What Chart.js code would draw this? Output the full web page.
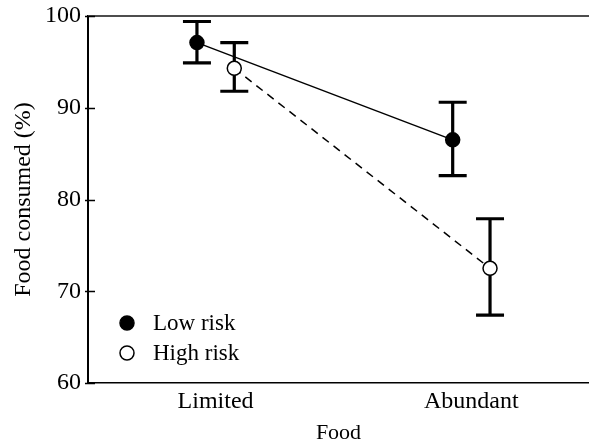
<!DOCTYPE html>
<html>
<head>
<meta charset="utf-8">
<script src="https://cdn.jsdelivr.net/npm/chart.js@4"></script>
<style>
  html, body { margin: 0; padding: 0; background: #fff; }
  #wrap { width: 589px; height: 441px; }
</style>
</head>
<body>
<div id="wrap"><canvas id="c" width="589" height="441"></canvas></div>
<script>
// Food treatments on the x axis
const categories = ['Limited', 'Abundant'];

// Mean food consumed (%) with upper/lower error limits
const lowRisk = [97.1, 86.5];
const lowRiskUpper = [99.4, 90.6];
const lowRiskLower = [94.9, 82.6];

const highRisk = [94.3, 72.5];
const highRiskUpper = [97.1, 77.9];
const highRiskLower = [91.8, 67.4];

const yTicks = [60, 70, 80, 90, 100];

// Horizontal dodge so the two series don't overlap at each category
const DODGE = 0.073;
const FONT = 'Liberation Serif, Times New Roman, serif';

function toPoints(values, shift) {
  return values.map((v, i) => ({ x: i + 1 + shift, y: v }));
}

const errorBars = [
  { upper: lowRiskUpper, lower: lowRiskLower, shift: -DODGE },
  { upper: highRiskUpper, lower: highRiskLower, shift: DODGE }
];

// Draws error bars with caps underneath the markers
const errorBarPlugin = {
  id: 'errorBars',
  beforeDatasetsDraw(chart) {
    const { ctx, scales: { x, y } } = chart;
    ctx.save();
    ctx.strokeStyle = '#000';
    ctx.lineWidth = 3.2;
    ctx.lineCap = 'butt';
    errorBars.forEach(set => {
      set.upper.forEach((u, i) => {
        const px = x.getPixelForValue(i + 1 + set.shift);
        const pu = y.getPixelForValue(u);
        const pl = y.getPixelForValue(set.lower[i]);
        const cap = 14;
        ctx.beginPath();
        ctx.moveTo(px, pu); ctx.lineTo(px, pl);
        ctx.moveTo(px - cap, pu); ctx.lineTo(px + cap, pu);
        ctx.moveTo(px - cap, pl); ctx.lineTo(px + cap, pl);
        ctx.stroke();
      });
    });
    ctx.restore();
  }
};

// Frame line along the top and inward y tick marks
const framePlugin = {
  id: 'frame',
  afterDraw(chart) {
    const { ctx, chartArea: a, scales: { y } } = chart;
    ctx.save();
    ctx.strokeStyle = '#4d4d4d';
    ctx.lineWidth = 2;
    ctx.beginPath();
    ctx.moveTo(a.left, a.top);
    ctx.lineTo(a.right, a.top);
    ctx.stroke();
    ctx.strokeStyle = '#000';
    ctx.lineWidth = 1.6;
    ctx.beginPath();
    yTicks.forEach(t => {
      const py = Math.round(y.getPixelForValue(t)) + 0.5;
      ctx.moveTo(a.left - 3, py);
      ctx.lineTo(a.left + 7, py);
    });
    ctx.stroke();
    ctx.restore();
  }
};

// Legend drawn inside the plot area, lower left
const insideLegendPlugin = {
  id: 'insideLegend',
  afterDraw(chart) {
    const { ctx, chartArea: a } = chart;
    ctx.save();
    ctx.font = '23px ' + FONT;
    ctx.textBaseline = 'middle';
    ctx.textAlign = 'left';
    chart.data.datasets.forEach((ds, i) => {
      const cy = a.top + 307 + i * 30;
      const cx = a.left + 39;
      ctx.beginPath();
      ctx.arc(cx, cy, 7, 0, Math.PI * 2);
      ctx.fillStyle = ds.pointBackgroundColor;
      ctx.fill();
      ctx.lineWidth = 1.5;
      ctx.strokeStyle = '#000';
      ctx.stroke();
      ctx.fillStyle = '#000';
      ctx.fillText(ds.label, a.left + 65, cy + 1);
    });
    ctx.restore();
  }
};

new Chart(document.getElementById('c'), {
  type: 'line',
  data: {
    datasets: [
      {
        label: 'Low risk',
        data: toPoints(lowRisk, -DODGE),
        borderColor: '#000',
        borderWidth: 1.5,
        pointRadius: 7,
        pointBackgroundColor: '#000',
        pointBorderColor: '#000',
        pointBorderWidth: 1.5,
        fill: false,
        tension: 0
      },
      {
        label: 'High risk',
        data: toPoints(highRisk, DODGE),
        borderColor: '#000',
        borderWidth: 1.5,
        borderDash: [8, 6],
        pointRadius: 7,
        pointBackgroundColor: '#fff',
        pointBorderColor: '#000',
        pointBorderWidth: 1.5,
        fill: false,
        tension: 0
      }
    ]
  },
  options: {
    responsive: false,
    animation: false,
    devicePixelRatio: 1,
    layout: { autoPadding: false, padding: { top: 16, right: 0, left: 0, bottom: 0 } },
    plugins: {
      legend: { display: false },
      tooltip: { enabled: false }
    },
    scales: {
      x: {
        type: 'linear',
        min: 0.501,
        max: 2.46,
        afterBuildTicks(scale) {
          scale.ticks = categories.map((_, i) => ({ value: i + 1 }));
        },
        afterFit(scale) {
          scale.height = 58;
          scale.paddingLeft = 0;
          scale.paddingRight = 0;
        },
        grid: { display: false, drawTicks: false },
        border: { display: true, color: '#000', width: 1.6 },
        ticks: {
          padding: 4,
          color: '#000',
          font: { family: FONT, size: 24 },
          callback(value) { return categories[value - 1]; }
        },
        title: {
          display: true,
          text: 'Food',
          color: '#000',
          font: { family: FONT, size: 22, lineHeight: 1 },
          padding: { top: 0, bottom: -3 }
        }
      },
      y: {
        min: 60,
        max: 100,
        afterBuildTicks(scale) {
          scale.ticks = yTicks.map(v => ({ value: v }));
        },
        afterFit(scale) {
          scale.width = 88;
          scale.paddingTop = 0;
          scale.paddingBottom = 0;
        },
        grid: { display: false, drawTicks: false },
        border: { display: true, color: '#000', width: 2 },
        ticks: {
          padding: 7,
          color: '#000',
          font: { family: FONT, size: 24 }
        },
        title: {
          display: true,
          text: 'Food consumed (%)',
          color: '#000',
          font: { family: FONT, size: 24, lineHeight: 1 },
          padding: { top: 12, bottom: 0 }
        }
      }
    }
  },
  plugins: [errorBarPlugin, framePlugin, insideLegendPlugin]
});
</script>
</body>
</html>
